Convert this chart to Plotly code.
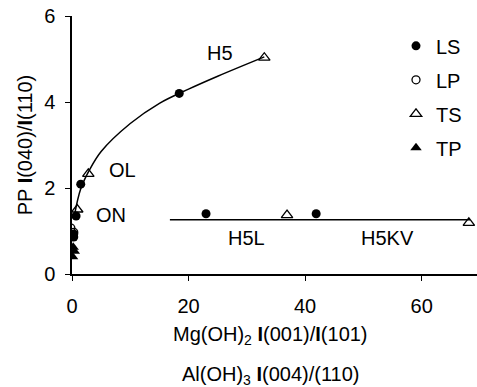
import plotly.graph_objects as go

# Data
ls_x = [18.4, 1.5, 0.7, 0.3, 0.3, 23.0, 41.9]
ls_y = [4.20, 2.09, 1.35, 0.93, 0.86, 1.40, 1.40]
lp_x = [-0.2, 0.3]
lp_y = [1.07, 0.97]
ts_x = [33.0, 2.8, 0.9, 36.9, 68.1]
ts_y = [5.03, 2.33, 1.50, 1.37, 1.19]
tp_x = [0.2, 0.4, 0.1]
tp_y = [0.62, 0.53, 0.40]

# H5 trend curve
curve_x = [0.4, 1.5, 3, 5, 10, 15, 20, 25, 33]
curve_y = [1.35, 1.98, 2.42, 2.85, 3.5, 3.97, 4.3, 4.6, 5.05]
# H5L / H5KV horizontal line
hline_x = [16.8, 68.3]
hline_y = [1.26, 1.26]

labels = ["H5", "OL", "ON", "H5L", "H5KV"]
label_x = [25.4, 8.6, 6.7, 30.0, 54.2]
label_y = [5.14, 2.42, 1.37, 0.84, 0.84]

FONT = "Liberation Sans, Arial, sans-serif"
FS = 20
fig = go.Figure()

fig.add_trace(go.Scatter(x=curve_x, y=curve_y, mode="lines", line=dict(color="black", width=1.5, shape="spline"),
                         showlegend=False, hoverinfo="skip"))
fig.add_trace(go.Scatter(x=hline_x, y=hline_y, mode="lines", line=dict(color="black", width=1.5),
                         showlegend=False, hoverinfo="skip"))

fig.add_trace(go.Scatter(x=ls_x, y=ls_y, mode="markers", name="LS", legendgroup="a",
                         marker=dict(symbol="circle", size=9, color="black", line=dict(width=0))))
fig.add_trace(go.Scatter(x=lp_x, y=lp_y, mode="markers", name="LP", legendgroup="b",
                         marker=dict(symbol="circle-open", size=8, color="black", line=dict(width=1.3))))
fig.add_trace(go.Scatter(x=ts_x, y=ts_y, mode="markers", name="TS", legendgroup="c",
                         marker=dict(symbol="triangle-up-open", size=10, color="black", line=dict(width=1.3))))
fig.add_trace(go.Scatter(x=tp_x, y=tp_y, mode="markers", name="TP", legendgroup="d",
                         marker=dict(symbol="triangle-up", size=10, color="black", line=dict(width=0))))

for t, x, y in zip(labels, label_x, label_y):
    fig.add_annotation(x=x, y=y, text=t, showarrow=False, font=dict(size=FS, color="black", family=FONT))

fig.add_annotation(xref="paper", yref="paper", x=0.49, y=-0.237, yanchor="middle",
                   text="Mg(OH)<sub>2</sub> <b>I</b>(001)/<b>I</b>(101)", showarrow=False,
                   font=dict(size=FS, color="black", family=FONT))
fig.add_annotation(xref="paper", yref="paper", x=0.49, y=-0.395, yanchor="middle",
                   text="Al(OH)<sub>3</sub> <b>I</b>(004)/(110)", showarrow=False,
                   font=dict(size=FS, color="black", family=FONT))

fig.update_layout(
    width=477, height=387,
    margin=dict(l=72, r=0, t=16, b=113, autoexpand=False),
    paper_bgcolor="white", plot_bgcolor="white",
    font=dict(family=FONT, size=FS, color="black"),
    showlegend=True,
    legend=dict(x=0.80, y=0.96, xanchor="left", yanchor="top", bgcolor="rgba(0,0,0,0)",
                tracegroupgap=5, itemwidth=30, font=dict(size=FS)),
    xaxis=dict(range=[0, 69.5], tickvals=[0, 20, 40, 60], showline=True, linecolor="black", linewidth=1.5,
               ticks="outside", ticklen=5, tickcolor="black", showgrid=False, zeroline=False,
               ticklabelstandoff=8),
    yaxis=dict(range=[0, 6], tickvals=[0, 2, 4, 6], showline=True, linecolor="black", linewidth=1.5,
               ticks="outside", ticklen=5, tickcolor="black", showgrid=False, zeroline=False,
               title=dict(text="PP <b>I</b>(040)/<b>I</b>(110)", standoff=6, font=dict(size=FS)),
               ticklabelstandoff=6),
)

fig.write_html("out.html", config={"displayModeBar": False},
               post_script="document.body.style.margin='0';document.body.style.overflow='hidden';")
